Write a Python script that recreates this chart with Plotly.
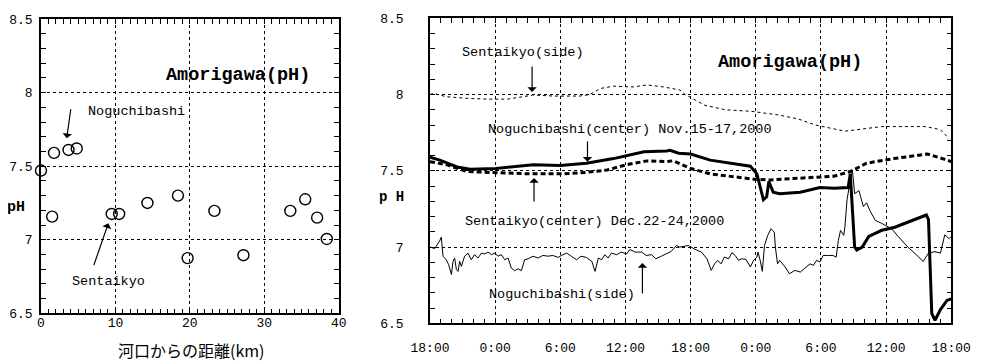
import plotly.graph_objects as go

# ---------------- Left panel data ----------------
dist_km = [0.0, 1.5, 1.75, 3.7, 4.8, 9.5, 10.5, 14.3, 18.4, 19.7, 23.3, 27.2, 33.5, 35.5, 37.1, 38.4]
ph_dist = [7.47, 7.157, 7.59, 7.61, 7.62, 7.175, 7.175, 7.25, 7.30, 6.875, 7.196, 6.895, 7.196, 7.275, 7.15, 7.005]

# ---------------- Right panel data (hours from 18:00) ----------------
side_s_h = [0, 0.3, 1.5, 3.4, 5.2, 7.1, 8.6, 9.5, 11.4, 13.8, 14.7, 15.7, 16.9, 18.7, 20.0, 21.5, 23.0, 23.5,
            25.3, 27.2, 29.6, 32.1, 33.9, 35.5, 38.2, 41.6, 45.6, 47.0, 47.8]
side_s_v = [8.0, 8.008, 7.986, 7.975, 7.97, 7.97, 7.986, 7.997, 7.99, 7.99, 8.0, 8.04, 8.055, 8.05, 8.063, 8.05, 8.03, 8.0,
            7.93, 7.90, 7.89, 7.866, 7.84, 7.80, 7.76, 7.79, 7.79, 7.77, 7.71]

center_n_h = [0, 0.9, 2.5, 3.7, 6.1, 7.7, 9.5, 12.0, 14.4, 16.9, 19.7, 21.8, 22.1, 22.9, 24.0, 25.8, 27.9, 29.5,
              30.1, 30.4, 30.7, 31.0, 31.2, 31.6, 32.2, 34.1, 35.9, 37.2, 38.5, 38.7, 39.1, 39.3, 39.8, 40.4,
              41.6, 42.8, 44.0, 45.3, 45.7, 45.9, 46.2, 46.5, 47.0, 47.6, 48.0]
center_n_v = [7.59, 7.57, 7.525, 7.51, 7.515, 7.525, 7.54, 7.535, 7.55, 7.58, 7.625, 7.63, 7.635, 7.615, 7.61, 7.57, 7.545, 7.53,
              7.48, 7.40, 7.31, 7.33, 7.43, 7.36, 7.35, 7.36, 7.39, 7.385, 7.39, 7.48, 7.0, 6.98, 7.0, 7.07,
              7.11, 7.13, 7.165, 7.20, 7.21, 7.18, 6.565, 6.52, 6.59, 6.65, 6.66]

center_s_h = [0, 1.5, 3.4, 6.1, 9.2, 12.3, 14.4, 16.3, 18.1, 20.0, 21.8, 22.4, 23.0, 24.0, 25.8, 27.9, 29.8,
              31.3, 33.5, 35.6, 37.2, 38.7, 40.2, 42.7, 45.8, 47.4, 48.0]
center_s_v = [7.56, 7.54, 7.495, 7.49, 7.48, 7.48, 7.49, 7.505, 7.54, 7.565, 7.56, 7.566, 7.545, 7.515, 7.48, 7.46, 7.445,
              7.44, 7.45, 7.46, 7.465, 7.495, 7.55, 7.58, 7.61, 7.575, 7.56]

side_n_h = [0.0, 0.43, 0.89, 1.04, 1.2, 1.5, 1.72, 1.97, 2.12, 2.27, 2.43, 2.58, 2.73, 2.89, 3.19, 3.5, 3.8, 4.1,
            4.42, 4.73, 5.04, 5.34, 5.65, 5.96, 6.27, 6.57, 6.88, 7.19, 7.49, 7.8, 8.1, 8.41, 8.72, 9.03, 9.49,
            9.95, 10.4, 10.9, 11.3, 11.8, 12.1, 12.6, 13.0, 13.5, 13.9, 14.4, 14.9, 15.2, 15.5, 15.8, 16.1, 16.4,
            16.7, 17.2, 17.6, 18.1, 18.4, 18.9, 19.5, 19.9, 20.4, 20.8, 21.3, 21.8, 22.2, 22.7, 23.0, 23.5, 23.8,
            24.4, 25.0, 25.5, 25.9, 26.2, 26.5, 26.8, 27.1, 27.5, 27.8, 28.1, 28.4, 28.7, 29.1, 29.5, 29.8, 30.1,
            30.2, 30.4, 30.6, 30.8, 31.1, 31.4, 31.7, 31.8, 32.0, 32.2, 32.7, 33.1, 33.6, 34.1, 34.5, 35.0, 35.3,
            35.6, 35.9, 36.2, 36.7, 37.1, 37.4, 37.6, 37.8, 38.1, 38.2,
            38.4, 38.7, 38.9, 39.1, 39.5, 39.9, 40.2, 40.5, 41.0, 41.6, 42.5, 43.1, 44.0, 45.0, 45.4, 45.9,
            46.5, 47.0, 47.4, 47.8, 48.0]
side_n_v = [7.0, 6.99, 7.04, 7.065, 6.94, 6.917, 6.884, 6.82, 6.906, 6.928, 6.852, 6.84, 6.906, 6.873, 6.94, 6.96, 6.917, 6.95,
            6.928, 6.96, 6.955, 6.967, 6.95, 6.96, 6.94, 6.95, 6.917, 6.928, 6.862, 6.845, 6.858, 6.845, 6.917, 6.923, 6.94,
            6.928, 6.945, 6.94, 6.945, 6.932, 6.945, 6.96, 6.94, 6.917, 6.94, 6.932, 6.906, 6.84, 6.928, 6.917, 6.95, 6.928,
            6.96, 6.95, 6.967, 6.955, 6.984, 6.967, 6.967, 6.945, 6.95, 6.923, 6.94, 6.96, 6.971, 7.01, 7.0, 7.006, 7.01,
            6.985, 6.967, 6.923, 6.847, 6.89, 6.913, 6.89, 6.934, 6.923, 6.963, 6.945, 6.913, 6.923, 6.919, 6.869, 6.913, 6.934,
            6.967, 6.913, 6.841, 7.011, 7.077, 7.12, 7.098, 7.0, 6.89, 6.913, 6.869, 6.825, 6.847, 6.836, 6.858, 6.89, 6.88,
            6.913, 6.902, 6.945, 6.945, 6.945, 6.934, 7.044, 7.109, 7.077, 7.13,
            7.31, 7.44, 7.50, 7.35, 7.37, 7.265, 7.29, 7.24, 7.175, 7.155, 7.12, 7.07, 7.0, 6.935, 6.905, 6.96,
            6.97, 6.96, 7.08, 7.055, 7.07]

time_tickvals = [0, 6, 12, 18, 24, 30, 36, 42, 48]
time_ticktext = ["18:00", "0:00", "6:00", "12:00", "18:00", "0:00", "6:00", "12:00", "18:00"]
ph_tickvals = [6.5, 7, 7.5, 8, 8.5]
ph_ticktext = ["6.5", "7", "7.5", "8", "8.5"]
dist_tickvals = [0, 10, 20, 30, 40]

MONO = "Liberation Mono, DejaVu Sans Mono, monospace"
JP = "Noto Sans CJK JP"

# page is shown with an 8px body margin; figure placed so that it reaches the window's bottom edge
W, H, OFF = 967, 356, 8


def px_x(p):
    return (p - OFF) / W


def px_y(p):
    return (H + OFF - p) / H


fig = go.Figure()

fig.add_trace(go.Scatter(x=dist_km, y=ph_dist, mode="markers", xaxis="x", yaxis="y",
                         marker=dict(symbol="circle-open", size=11, color="black", line=dict(width=1.4)),
                         showlegend=False, cliponaxis=False))

fig.add_trace(go.Scatter(x=side_s_h, y=side_s_v, mode="lines", xaxis="x2", yaxis="y2",
                         line=dict(color="black", width=1, dash="3px,3px"), showlegend=False))
fig.add_trace(go.Scatter(x=center_s_h, y=center_s_v, mode="lines", xaxis="x2", yaxis="y2",
                         line=dict(color="black", width=3, dash="5px,3px"), showlegend=False))
fig.add_trace(go.Scatter(x=center_n_h, y=center_n_v, mode="lines", xaxis="x2", yaxis="y2",
                         line=dict(color="black", width=3), showlegend=False))
fig.add_trace(go.Scatter(x=side_n_h, y=side_n_v, mode="lines", xaxis="x2", yaxis="y2",
                         line=dict(color="black", width=1), showlegend=False))

axis_common = dict(showline=True, linecolor="black", linewidth=1.5, mirror="ticks",
                   ticks="inside", ticklen=5, tickcolor="black", tickwidth=1, automargin=False,
                   showgrid=True, gridcolor="black", gridwidth=1, griddash="dot",
                   zeroline=False, tickfont=dict(family=MONO, size=13, color="black"))

fig.update_layout(
    template="none",
    width=W, height=H, margin=dict(l=0, r=0, t=0, b=0),
    paper_bgcolor="white", plot_bgcolor="white",
    xaxis=dict(domain=[px_x(41), px_x(338.7)], range=[0, 40], tickvals=dist_tickvals,
               minor=dict(dtick=1, ticks="inside", ticklen=5, tickcolor="black", showgrid=False),
               ticklabelstandoff=-4, anchor="y", **axis_common),
    yaxis=dict(domain=[px_y(313.3), px_y(19)], range=[6.5, 8.5], tickvals=ph_tickvals, ticktext=ph_ticktext,
               minor=dict(dtick=0.1, ticks="inside", ticklen=5, tickcolor="black", showgrid=False),
               ticklabelstandoff=4, anchor="x", **axis_common),
    xaxis2=dict(domain=[px_x(430), px_x(951.3)], range=[0, 48], tickvals=time_tickvals, ticktext=time_ticktext,
                minor=dict(dtick=1, ticks="inside", ticklen=5, tickcolor="black", showgrid=False),
                ticklabelstandoff=11, anchor="y2", **axis_common),
    yaxis2=dict(domain=[px_y(323.3), px_y(18.3)], range=[6.5, 8.5], tickvals=ph_tickvals, ticktext=ph_ticktext,
                minor=dict(dtick=0.1, ticks="inside", ticklen=5, tickcolor="black", showgrid=False),
                ticklabelstandoff=22, anchor="x2", **axis_common),
)

ann = []
txt = dict(family=MONO, size=13.5, color="black")
title_font = dict(family=MONO, size=18.5, color="black")
# Left panel texts
ann.append(dict(x=26.5, y=8.114, xref="x", yref="y", text="<b>Amorigawa(pH)</b>", showarrow=False, font=title_font))
ann.append(dict(x=6.1, y=7.871, xref="x", yref="y", text="Noguchibashi", showarrow=False, xanchor="left", font=txt))
ann.append(dict(x=3.9, y=6.715, xref="x", yref="y", text="Sentaikyo", showarrow=False, xanchor="left", font=txt))
ann.append(dict(x=3.45, y=7.69, ax=4.03, ay=7.897, xref="x", yref="y", axref="x", ayref="y", text="",
                showarrow=True, arrowhead=1, arrowsize=1.3, arrowwidth=1.2, arrowcolor="black"))
ann.append(dict(x=9.05, y=7.112, ax=7.03, ay=6.817, xref="x", yref="y", axref="x", ayref="y", text="",
                showarrow=True, arrowhead=1, arrowsize=1.3, arrowwidth=1.2, arrowcolor="black"))
ann.append(dict(x=px_x(191), y=px_y(350), xref="paper", yref="paper", yanchor="middle", xanchor="center",
                text="河口からの距離(km)", showarrow=False, font=dict(family=JP, size=16, color="black")))
ann.append(dict(x=px_x(16), y=px_y(207), xref="paper", yref="paper", yanchor="middle", xanchor="center",
                text="<b>pH</b>", showarrow=False, font=dict(family=MONO, size=15, color="black")))

# Right panel texts
ann.append(dict(x=33.17, y=8.207, xref="x2", yref="y2", text="<b>Amorigawa(pH)</b>", showarrow=False, font=title_font))
ann.append(dict(x=8.6, y=8.275, xref="x2", yref="y2", text="Sentaikyo(side)", showarrow=False, font=txt))
ann.append(dict(x=5.16, y=7.768, xref="x2", yref="y2", text="Noguchibashi(center) Nov.15-17,2000",
                showarrow=False, xanchor="left", font=txt))
ann.append(dict(x=3.04, y=7.166, xref="x2", yref="y2", text="Sentaikyo(center) Dec.22-24,2000",
                showarrow=False, xanchor="left", font=txt))
ann.append(dict(x=5.22, y=6.686, xref="x2", yref="y2", text="Noguchibashi(side)",
                showarrow=False, xanchor="left", font=txt))
for (hx, hy, tx, ty) in [(9.4, 8.017, 9.4, 8.194), (14.5, 7.56, 14.5, 7.702),
                         (9.58, 7.453, 9.58, 7.289), (19.56, 6.895, 19.56, 6.686)]:
    ann.append(dict(x=hx, y=hy, ax=tx, ay=ty, xref="x2", yref="y2", axref="x2", ayref="y2", text="",
                    showarrow=True, arrowhead=1, arrowsize=1.3, arrowwidth=1.2, arrowcolor="black"))
ann.append(dict(x=px_x(391), y=px_y(197), xref="paper", yref="paper", yanchor="middle", xanchor="center",
                text="<b>p H</b>", showarrow=False, font=dict(family=MONO, size=14, color="black")))

fig.update_layout(annotations=ann)

fig.write_html("out.html")
